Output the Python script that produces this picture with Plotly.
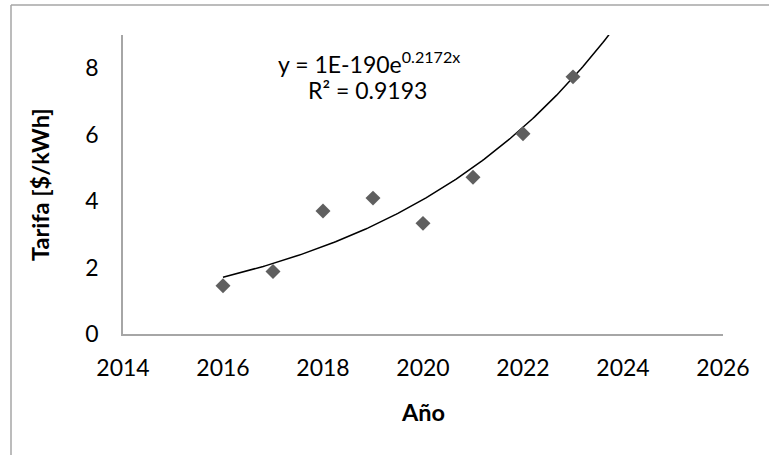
import numpy as np
import plotly.graph_objects as go

# Annual tariff values
years = [2016, 2017, 2018, 2019, 2020, 2021, 2022, 2023]
tarifa = [1.45, 1.88, 3.70, 4.09, 3.33, 4.72, 6.03, 7.74]

x_ticks = [2014, 2016, 2018, 2020, 2022, 2024, 2026]
y_ticks = [0, 2, 4, 6, 8]

eq_text = "y = 1E-190e<sup>0.2172x</sup>"
r2_text = "R² = 0.9193"

# Exponential trendline: least-squares fit on ln(y)
b, a = np.polyfit(years, np.log(tarifa), 1)
trend_x = np.linspace(years[0], years[-1] + 1, 200)
trend_y = np.exp(a + b * trend_x)

W, H = 769, 455
L, R, T, B = 123, 723, 35, 334  # plot area in pixels

def px(xp):
    return (xp - L) / (R - L)

def py(yp):
    return (B - yp) / (B - T)

font = "Lato, 'Open Sans', sans-serif"
axis_col = "#a6a6a6"

def label(text, x, y, size=23, angle=0):
    return dict(text=text, x=px(x), y=py(y), xref="paper", yref="paper",
                xanchor="center", yanchor="middle", showarrow=False,
                textangle=angle, font=dict(size=size))

fig = go.Figure()
fig.add_trace(go.Scatter(
    x=trend_x, y=trend_y, mode="lines",
    line=dict(color="black", width=1.5), hoverinfo="skip",
))
fig.add_trace(go.Scatter(
    x=years, y=tarifa, mode="markers",
    marker=dict(symbol="diamond", size=11.5, color="#5f5f5f", line=dict(width=0)),
))

fig.update_layout(
    width=W, height=H,
    margin=dict(l=L, r=W - R, t=T, b=H - B),
    paper_bgcolor="white", plot_bgcolor="white",
    showlegend=False,
    font=dict(family=font, size=23, color="black"),
    xaxis=dict(
        range=[2014, 2026], tickvals=x_ticks, showgrid=False, zeroline=False,
        showline=True, linecolor=axis_col, linewidth=1.5, ticks="",
        ticklabelstandoff=13, tickfont=dict(size=23),
    ),
    yaxis=dict(
        range=[0, 9], tickvals=y_ticks, showgrid=False, zeroline=False,
        showline=True, linecolor=axis_col, linewidth=1.5, ticks="",
        ticklabelstandoff=18, tickfont=dict(size=23),
    ),
    annotations=[
        label(eq_text, 369, 62),
        label(r2_text, 367, 90),
        label("<b>Año</b>", 423, 412, size=23.5),
        label("<b>Tarifa [$/kWh]</b>", 40, 185, size=23.5, angle=-90),
    ],
    shapes=[
        dict(type="line", xref="paper", yref="paper", x0=px(11), x1=px(11),
             y0=py(5), y1=py(470), line=dict(color=axis_col, width=1.5)),
        dict(type="line", xref="paper", yref="paper", x0=px(11), x1=px(790),
             y0=py(5), y1=py(5), line=dict(color=axis_col, width=1.5)),
    ],
)

fig.write_html("out.html")
